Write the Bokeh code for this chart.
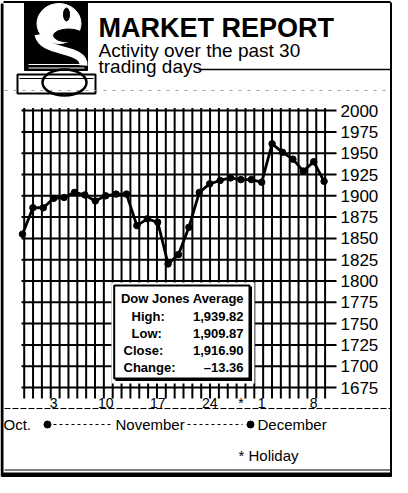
import numpy as np
from bokeh.plotting import figure
from bokeh.models import Range1d
from bokeh.core.properties import value
from bokeh.embed import file_html
from bokeh.resources import INLINE

# ---------------- data ----------------
dow_close = [1855, 1886, 1886, 1897, 1898, 1904, 1901, 1894, 1900, 1902,
             1902, 1865, 1873, 1869, 1820, 1831, 1863, 1904, 1914, 1918,
             1921, 1919, 1919, 1916, 1961, 1951, 1943, 1929, 1940, 1917]
day_index = list(range(len(dow_close)))

y_ticks = [2000, 1975, 1950, 1925, 1900, 1875, 1850, 1825, 1800, 1775, 1750, 1725, 1700, 1675]
y_tick_labels = [str(v) for v in y_ticks]

x_label_days = [3, 8, 13, 18, 21, 23, 28]
x_label_text = ["3", "10", "17", "24", "*", "1", "8"]

month_labels = ["Oct.", "November", "December"]
holiday_note = "* Holiday"

title_text = "MARKET REPORT"
subtitle_lines = ["Activity over the past 30", "trading days"]

box_title = "Dow Jones Average"
box_labels = ["High:", "Low:", "Close:", "Change:"]
box_values = ["1,939.82", "1,909.87", "1,916.90", "\u201313.36"]

# ---------------- layout constants (reference pixel space) ----------------
W, H = 392, 477
X0, X1 = 8, 400          # visible reference x span
Y0, Y1 = 8, 485          # visible reference y span
PX_DAY0 = 30.0           # x of first trading day
PX_PER_DAY = 10.4
PX_Y_BASE = 395.0        # y of 1675 line
PX_PER_PT = 0.852
FONT = value("Liberation Sans")

p = figure(width=W, height=H, x_range=Range1d(X0, X1), y_range=Range1d(Y1, Y0),
           x_axis_type=None, y_axis_type=None, toolbar_location=None,
           output_backend="svg", min_border=0, outline_line_color=None,
           background_fill_color="white", border_fill_color="white")
p.grid.visible = False
p.extra_x_ranges = {"day": Range1d((X0 - PX_DAY0) / PX_PER_DAY, (X1 - PX_DAY0) / PX_PER_DAY)}
p.extra_y_ranges = {"dow": Range1d(1675 - (Y1 - PX_Y_BASE) / PX_PER_PT,
                                   1675 + (PX_Y_BASE - Y0) / PX_PER_PT)}

# ---------------- frame ----------------
p.segment(x0=[11], y0=[9.5], x1=[398], y1=[9.5], line_color="black", line_width=2)
p.segment(x0=[9.5], y0=[11], x1=[9.5], y1=[484], line_color="black", line_width=3)
p.segment(x0=[398.5], y0=[10], x1=[398.5], y1=[484], line_color="black", line_width=2)
p.segment(x0=[9], y0=[482.5], x1=[399], y1=[482.5], line_color="black", line_width=5)
p.segment(x0=[12], y0=[477.5], x1=[398], y1=[477.5], line_color="black", line_width=1)

# ---------------- logo ----------------
p.quad(left=[32], right=[95], top=[10], bottom=[78], fill_color="black", line_color="black")
p.ellipse(x=[66.5], y=[31], width=[44], height=[40], fill_color="white", line_color="white")
p.ellipse(x=[76], y=[43], width=[30], height=[13], fill_color="black", line_color="black")
p.ellipse(x=[74], y=[22], width=[6], height=[13], fill_color="black", line_color="black")
p.bezier(x0=[46], y0=[42], x1=[91], y1=[73], cx0=[50], cy0=[62], cx1=[92], cy1=[54],
         line_color="white", line_width=8)
p.segment(x0=[36, 36], y0=[72, 75.5], x1=[92, 92], y1=[72, 75.5], line_color="white", line_width=1)
p.quad(left=[25], right=[103], top=[82], bottom=[101], fill_color="white", line_color="black", line_width=2)
p.segment(x0=[27], y0=[86], x1=[101], y1=[86], line_color="black", line_width=1)
p.ellipse(x=[72], y=[90], width=[44], height=[26], fill_color=None, line_color="black", line_width=2.5)

# ---------------- title ----------------
p.text(x=[106], y=[35], text=[title_text], text_font=FONT, text_font_style="bold",
       text_font_size="27px", text_baseline="alphabetic", text_align="left", text_color="black")
p.text(x=[106, 106], y=[58, 74], text=subtitle_lines, text_font=FONT,
       text_font_size="19px", text_baseline="alphabetic", text_align="left", text_color="black")
p.segment(x0=[206], y0=[77], x1=[398], y1=[77], line_color="black", line_width=1.5)
p.segment(x0=[12], y0=[98], x1=[398], y1=[98], line_color="#a0a0a0", line_width=1, line_dash="3 6")

# ---------------- grid ----------------
grid_x = 31.7 + 8.85 * np.arange(35)
p.segment(x0=grid_x, y0=[2003] * len(grid_x), x1=grid_x, y1=[1662] * len(grid_x),
          y_range_name="dow", line_color="black", line_width=2)
p.segment(x0=[29] * len(y_ticks), y0=y_ticks, x1=[344] * len(y_ticks), y1=y_ticks,
          y_range_name="dow", line_color="black", line_width=2)
p.text(x=[348] * len(y_ticks), y=y_ticks, text=y_tick_labels, y_range_name="dow",
       text_font=FONT, text_font_size="17px", text_baseline="middle", text_align="left",
       text_color="black")

# ---------------- data line ----------------
p.line(day_index, dow_close, x_range_name="day", y_range_name="dow",
       line_color="black", line_width=2.8)
p.scatter(day_index, dow_close, x_range_name="day", y_range_name="dow",
          size=6.5, fill_color="black", line_color="black")

# ---------------- inset box ----------------
p.quad(left=[119], right=[262], top=[290], bottom=[391], fill_color="white", line_color=None)
p.quad(left=[121.7], right=[257], top=[293], bottom=[386], fill_color="white",
       line_color="black", line_width=2)
p.segment(x0=[258], y0=[294], x1=[258], y1=[388], line_color="black", line_width=3)
p.segment(x0=[123], y0=[387], x1=[259.5], y1=[387], line_color="black", line_width=3)
p.text(x=[190], y=[306], text=[box_title], text_font=FONT, text_font_style="bold",
       text_font_size="13px", text_baseline="middle", text_align="center", text_color="black")
row_y = [324, 341, 358, 375]
p.text(x=[139, 139, 131, 131], y=row_y, text=box_labels, text_font=FONT, text_font_style="bold",
       text_font_size="13px", text_baseline="middle", text_align="left", text_color="black")
p.text(x=[251] * 4, y=row_y, text=box_values, text_font=FONT, text_font_style="bold",
       text_font_size="13px", text_baseline="middle", text_align="right", text_color="black")

# ---------------- x labels ----------------
p.segment(x0=[12], y0=[416], x1=[398], y1=[416], line_color="black", line_width=1, line_dash="6 2")
p.text(x=x_label_days, y=[410] * len(x_label_days), text=x_label_text, x_range_name="day",
       text_font=FONT, text_font_size="14px", text_baseline="middle", text_align="center",
       text_color="black")

p.text(x=[11, 123, 265], y=[432, 432, 432], text=month_labels, text_font=FONT,
       text_font_size="15px", text_baseline="middle", text_align="left", text_color="black")
p.scatter(x=[55, 258], y=[432, 432], size=7, fill_color="black", line_color="black")
p.segment(x0=[61, 195], y0=[432, 432], x1=[120, 250], y1=[432, 432],
          line_color="black", line_width=1, line_dash="3 3")
p.text(x=[246], y=[463], text=[holiday_note], text_font=FONT, text_font_size="15px",
       text_baseline="middle", text_align="left", text_color="black")

open("out.html", "w").write(file_html(p, INLINE))
